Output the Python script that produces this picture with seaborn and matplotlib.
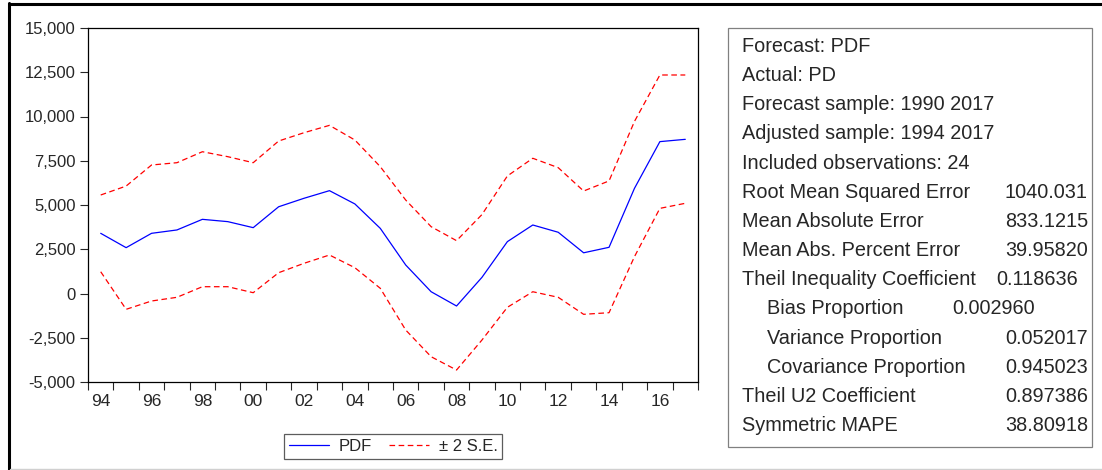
from matplotlib import pyplot as plt
from matplotlib.lines import Line2D
from matplotlib.patches import Rectangle
from matplotlib.ticker import FuncFormatter
import seaborn as sns
import pandas as pd
import numpy as np

years = list(range(1994, 2018))
pdf   = [3400, 2590, 3400, 3590, 4190, 4060, 3720, 4900, 5380, 5810, 5060, 3680,
         1610, 100, -706, 913, 2930, 3870, 3460, 2300, 2610, 5940, 8580, 8710]
upper = [5565, 6070, 7260, 7390, 8010, 7730, 7390, 8615, 9085, 9500, 8672, 7165,
         5280, 3775, 2985, 4460, 6640, 7640, 7110, 5790, 6360, 9720, 12345, 12345]
lower = [1230, -893, -424, -215, 384, 384, 45, 1175, 1706, 2175, 1457, 293,
         -2063, -3572, -4323, -2628, -780, 100, -215, -1176, -1085, 2080, 4810, 5096]

stat_labels = ['Forecast: PDF', 'Actual: PD', 'Forecast sample: 1990 2017',
               'Adjusted sample: 1994 2017', 'Included observations: 24',
               'Root Mean Squared Error', 'Mean Absolute Error', 'Mean Abs. Percent Error',
               'Theil Inequality Coefficient', 'Bias Proportion', 'Variance Proportion',
               'Covariance Proportion', 'Theil U2 Coefficient', 'Symmetric MAPE']
stat_values = ['', '', '', '', '', '1040.031', '833.1215', '39.95820', '0.118636',
               '0.002960', '0.052017', '0.945023', '0.897386', '38.80918']
stat_indent = [0, 0, 0, 0, 0, 0, 0, 0, 0, 1, 1, 1, 0, 0]

df = pd.DataFrame({'year': years, 'PDF': pdf, 'upper': upper, 'lower': lower})

sns.set_style('ticks')
plt.rcParams['font.family'] = ['Liberation Sans', 'DejaVu Sans']
plt.rcParams['axes.unicode_minus'] = False

W, H = 1102, 470
fig = plt.figure(figsize=(W / 100, H / 100), dpi=100)
ax = fig.add_axes([88 / W, (H - 382) / H, (698 - 88) / W, (382 - 28) / H])

dash = (0, (4.5, 2.8))
sns.lineplot(data=df, x='year', y='PDF', color='#0000ff', lw=0.9, ax=ax, label='PDF')
sns.lineplot(data=df, x='year', y='upper', color='#ff0000', lw=0.9, linestyle=dash,
             ax=ax, label='\u00b1 2 S.E.')
sns.lineplot(data=df, x='year', y='lower', color='#ff0000', lw=0.9, linestyle=dash, ax=ax)

ax.set_xlim(1993.5, 2017.5)
ax.set_ylim(-5000, 15000)
ax.set_xlabel('')
ax.set_ylabel('')

ax.set_yticks(np.arange(-5000, 15001, 2500))
ax.yaxis.set_major_formatter(FuncFormatter(lambda v, p: '{:,.0f}'.format(v)))
ax.set_xticks(years[::2])
ax.set_xticklabels(['%02d' % (y % 100) for y in years[::2]])
ax.set_xticks(np.arange(1993.5, 2018, 1), minor=True)
ax.tick_params(axis='x', which='major', length=0, pad=9, labelsize=12.5)
ax.tick_params(axis='x', which='minor', length=6, width=0.8, direction='out')
ax.tick_params(axis='y', length=6, width=0.8, pad=3, labelsize=12)
for s in ax.spines.values():
    s.set_visible(True)
    s.set_linewidth(0.9)
    s.set_color('black')

leg = ax.legend(loc='center', bbox_to_anchor=(393 / W, (H - 446.5) / H),
                bbox_transform=fig.transFigure, ncol=2, frameon=True, fancybox=False,
                fontsize=12, handlelength=2.4, columnspacing=1.0, borderpad=0.3,
                handletextpad=0.6)
leg.get_frame().set_edgecolor('#333333')
leg.get_frame().set_linewidth(0.9)

# statistics box on the right
fig.add_artist(Rectangle((728 / W, (H - 447) / H), (1092 - 728) / W, (447 - 28) / H,
                         transform=fig.transFigure, fill=False, edgecolor='#808080', lw=0.9))
for i, (lab, val, ind) in enumerate(zip(stat_labels, stat_values, stat_indent)):
    yb = (H - (52 + i * 29.15)) / H
    fig.text((742 + 25 * ind) / W, yb, lab, fontsize=14.3, va='baseline', ha='left')
    if lab == 'Bias Proportion':
        fig.text(952 / W, yb, val, fontsize=14.3, va='baseline', ha='left')
    elif lab == 'Theil Inequality Coefficient':
        fig.text(1078 / W, yb, val, fontsize=14.3, va='baseline', ha='right')
    elif val:
        fig.text(1088 / W, yb, val, fontsize=14.3, va='baseline', ha='right')

# outer frame
fig.add_artist(Line2D([8.5 / W, 8.5 / W], [0, (H - 3) / H], color='black', lw=2.2,
                      transform=fig.transFigure))
fig.add_artist(Line2D([8.5 / W, 1], [(H - 3.5) / H, (H - 3.5) / H], color='black', lw=2.2,
                      transform=fig.transFigure))
fig.add_artist(Line2D([10 / W, 1], [(H - 469) / H, (H - 469) / H], color='#d0d0d0', lw=1,
                      transform=fig.transFigure))

fig.savefig('out.png', dpi=100)
